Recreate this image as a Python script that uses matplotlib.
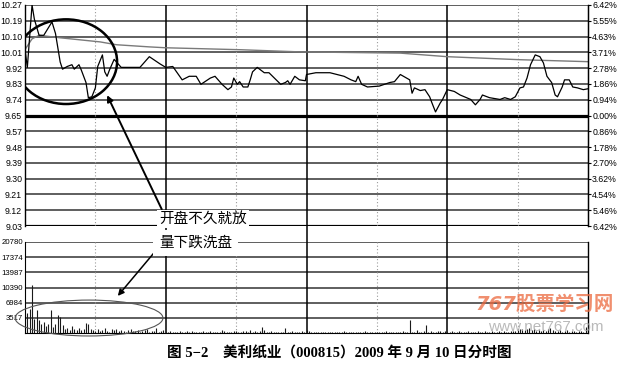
import numpy as np
import matplotlib.pyplot as plt
from matplotlib.patches import Ellipse

plt.rcParams['font.family'] = ['Liberation Sans', 'Noto Sans CJK SC', 'DejaVu Sans']

# --- data ---
price_labels = ['10.27', '10.19', '10.10', '10.01', '9.92', '9.83', '9.74', '9.65',
                '9.57', '9.48', '9.39', '9.30', '9.21', '9.12', '9.03']
pct_labels = ['6.42%', '5.55%', '4.63%', '3.71%', '2.78%', '1.86%', '0.94%', '0.00%',
              '0.86%', '1.78%', '2.70%', '3.62%', '4.54%', '5.46%', '6.42%']
vol_labels = ['3517', '6984', '10390', '13987', '17374', '20780']

# minute of session, price
price_min = [0, 1, 3, 4, 6, 8, 11.5, 13, 15, 16, 18, 20, 21, 23, 24, 26, 27, 28.5, 30, 31,
             33, 34, 35, 36, 38, 40, 41, 49, 53, 57.5, 60, 63, 67, 70, 73, 75, 79, 81, 84,
             86.5, 88, 89, 90.5, 91.5, 93, 95, 96, 97, 99, 101, 102, 104, 109, 111, 112,
             113, 115, 117, 119.5, 120, 124, 130, 136, 139, 141, 142, 143.5, 146, 151,
             155.5, 157.5, 160, 164, 165, 166, 168.5, 170.5, 172.5, 173.5, 175, 177, 178,
             180, 183, 185.5, 190, 192, 194, 195, 198, 202.5, 204.5, 207, 209, 211, 212.5,
             214, 215.5, 217.5, 219.5, 221, 222.5, 224.5, 226, 227, 229, 230, 232, 233.5,
             235.5, 238, 240]
price = [10.02, 9.92, 10.27, 10.19, 10.10, 10.10, 10.175, 10.11, 9.95, 9.91, 9.925, 9.935,
         9.91, 9.935, 9.905, 9.835, 9.75, 9.755, 9.805, 9.925, 9.99, 9.895, 9.87, 9.905,
         9.965, 9.935, 9.92, 9.92, 9.98, 9.94, 9.92, 9.925, 9.85, 9.87, 9.87, 9.825, 9.86,
         9.87, 9.825, 9.795, 9.81, 9.86, 9.825, 9.84, 9.81, 9.81, 9.85, 9.895, 9.92, 9.90,
         9.89, 9.89, 9.825, 9.835, 9.845, 9.825, 9.87, 9.85, 9.845, 9.88, 9.89, 9.89, 9.87,
         9.85, 9.84, 9.87, 9.825, 9.81, 9.815, 9.835, 9.84, 9.88, 9.85, 9.775, 9.805, 9.79,
         9.795, 9.755, 9.72, 9.67, 9.72, 9.74, 9.795, 9.785, 9.765, 9.74, 9.71, 9.74, 9.765,
         9.75, 9.74, 9.75, 9.74, 9.755, 9.805, 9.81, 9.86, 9.935, 9.99, 9.98, 9.945, 9.87,
         9.835, 9.765, 9.755, 9.81, 9.85, 9.85, 9.81, 9.805, 9.795, 9.80]

avg_min = [0, 3, 6, 15, 32, 39, 53, 60, 92, 117, 160, 180, 211, 240]
avg_price = [10.02, 10.08, 10.10, 10.086, 10.063, 10.047, 10.035, 10.03, 10.019, 10.007,
             10.0, 9.98, 9.963, 9.952]

volume = [4100, 4500, 5500, 10900, 3200, 5200, 2900, 2000, 2600, 1500,
          2100, 5200, 1400, 2000, 4100, 3600, 1800, 900, 1200, 700,
          1600, 800, 600, 1100, 700, 900, 2300, 2000, 800, 600,
          500, 900, 400, 700, 1200, 500, 300, 800, 600, 1000,
          400, 700, 500, 300, 600, 900, 400, 500, 700, 300,
          400, 600, 800, 300, 500, 400, 1100, 300, 500, 700,
          300, 200, 400, 150, 250, 300, 500, 200, 150, 350,
          250, 400, 200, 300, 150, 250, 450, 200, 300, 350,
          150, 250, 300, 200, 600, 400, 300, 200, 250, 350,
          500, 300, 200, 450, 350, 250, 600, 300, 400, 250,
          500, 1400, 700, 300, 200, 350, 250, 300, 200, 150,
          250, 1200, 300, 200, 350, 250, 300, 200, 400, 300,
          700, 400, 300, 250, 200, 300, 250, 150, 200, 300,
          250, 200, 150, 300, 200, 250, 400, 200, 150, 300,
          250, 200, 300, 150, 200, 350, 250, 200, 300, 250,
          200, 150, 300, 250, 400, 200, 300, 250, 150, 200,
          300, 500, 250, 200, 3000, 300, 250, 600, 300, 200,
          350, 1800, 300, 400, 250, 300, 500, 350, 300, 400,
          300, 250, 400, 200, 300, 350, 250, 200, 300, 400,
          250, 300, 200, 350, 300, 250, 400, 300, 200, 350,
          300, 250, 400, 300, 350, 250, 300, 400, 500, 350,
          600, 800, 1000, 700, 900, 1200, 600, 800, 500, 700,
          400, 600, 500, 800, 1100, 600, 400, 500, 700, 300,
          400, 600, 300, 500, 400, 300, 500, 400, 300, 1300]

W, H = 620, 366
fig = plt.figure(figsize=(W / 100, H / 100), dpi=100)

def frac(x0, y0, x1, y1):
    return [x0 / W, 1 - y1 / H, (x1 - x0) / W, (y1 - y0) / H]

grid_c = '#333333'

# price panel
ax = fig.add_axes(frac(25, 5, 588, 226))
levels = np.linspace(10.27, 9.03, 15)
ax.set_xlim(0, 240)
ax.set_ylim(9.03, 10.27)
for i, lv in enumerate(levels):
    thick = price_labels[i] in ('9.65', '9.03')
    ax.axhline(lv, color='black' if thick else grid_c, lw=2.3 if thick else 1.1, zorder=1)
for m in (60, 120, 180):
    ax.axvline(m, color='black', lw=1.1, zorder=1)
for m in (30, 90, 150, 210):
    ax.axvline(m, color='#9a9a9a', lw=0.8, ls=(0, (1, 2)), zorder=1)
ax.plot(avg_min, avg_price, color='#7a7a7a', lw=1.0, zorder=2)
ax.plot(price_min, price, color='black', lw=0.9, zorder=3)
ax.set_yticks(levels)
ax.set_yticklabels(price_labels, fontsize=6.3)
ax.tick_params(axis='y', length=0, pad=2)
ax.set_xticks([])
for s in ('top', 'bottom'):
    ax.spines[s].set_visible(False)
ax.spines['left'].set_linewidth(1.0)
ax.spines['right'].set_linewidth(1.0)

ax2 = ax.twinx()
ax2.set_ylim(ax.get_ylim())
ax2.set_yticks(levels)
ax2.set_yticklabels(pct_labels, fontsize=6.3)
ax2.tick_params(axis='y', length=2, width=0.8, pad=1)
for s in ('top', 'bottom', 'left'):
    ax2.spines[s].set_visible(False)

# circled area on the open
ax.add_patch(Ellipse((17.5, 9.952), 43.5, 0.475, fill=False, ec='black', lw=1.8, zorder=4))

# volume panel
axv = fig.add_axes(frac(25, 242, 588, 333))
axv.set_xlim(0, 240)
axv.set_ylim(0, 20780)
vticks = np.linspace(0, 20780, 7)[1:]
for v in vticks:
    axv.axhline(v, color=grid_c, lw=1.1, zorder=1)
for m in (60, 120, 180):
    axv.axvline(m, ymax=1.18, color='black', lw=1.1, zorder=1, clip_on=False)
for m in (30, 90, 150, 210):
    axv.axvline(m, color='#9a9a9a', lw=0.8, ls=(0, (1, 2)), zorder=1)
axv.vlines(np.arange(len(volume)), 0, volume, color='#1a1a1a', lw=0.8, zorder=2)
axv.set_yticks(vticks)
axv.set_yticklabels(vol_labels, fontsize=5.6)
axv.tick_params(axis='y', length=0, pad=1.5)
axv.set_xticks([])
axv.spines['top'].set_visible(False)
axv.spines['right'].set_linewidth(1.0)
axv.add_patch(Ellipse((27.3, 3420), 63, 8200, fill=False, ec='#555555', lw=0.8,
                      zorder=4, clip_on=False))

# annotations
ax.annotate('', xy=(34.5, 9.778), xytext=(58.8, 9.11),
            arrowprops=dict(arrowstyle='-|>', color='black', lw=1.4,
                            mutation_scale=9), zorder=5)
axv.annotate('', xy=(38.8, 7980), xytext=(56.7, 19400),
             arrowprops=dict(arrowstyle='-|>', color='black', lw=1.1,
                             mutation_scale=9), zorder=5)
fig.text(159 / W, 1 - 219 / H, '开盘不久就放', fontsize=10.5, va='center', ha='left',
         family=['Noto Sans CJK SC'],
         bbox=dict(facecolor='white', edgecolor='none', pad=1.5), zorder=6)
fig.text(159 / W, 1 - 243 / H, '量下跌洗盘', fontsize=10.5, va='center', ha='left',
         family=['Noto Sans CJK SC'],
         bbox=dict(facecolor='white', edgecolor='none', pad=4.5), zorder=6)

# watermark
fig.text(545 / W, 1 - 304 / H, '767股票学习网', fontsize=14, style='italic',
         weight='bold', color='#ec6a3f', alpha=0.75, ha='center', va='center',
         family=['DejaVu Sans', 'Noto Sans CJK SC'], zorder=7)
fig.text(546 / W, 1 - 327 / H, 'www.net767.com', fontsize=11, color='#a8a8a8',
         alpha=0.8, ha='center', va='center', zorder=7)

# caption
fig.text(339 / W, 1 - 353 / H, '图 5−2　美利纸业（000815）2009 年 9 月 10 日分时图',
         fontsize=10.5, weight='bold', ha='center', va='center',
         family=['Liberation Serif', 'Noto Sans CJK SC'])

fig.savefig('out.png', dpi=100, facecolor='white')
